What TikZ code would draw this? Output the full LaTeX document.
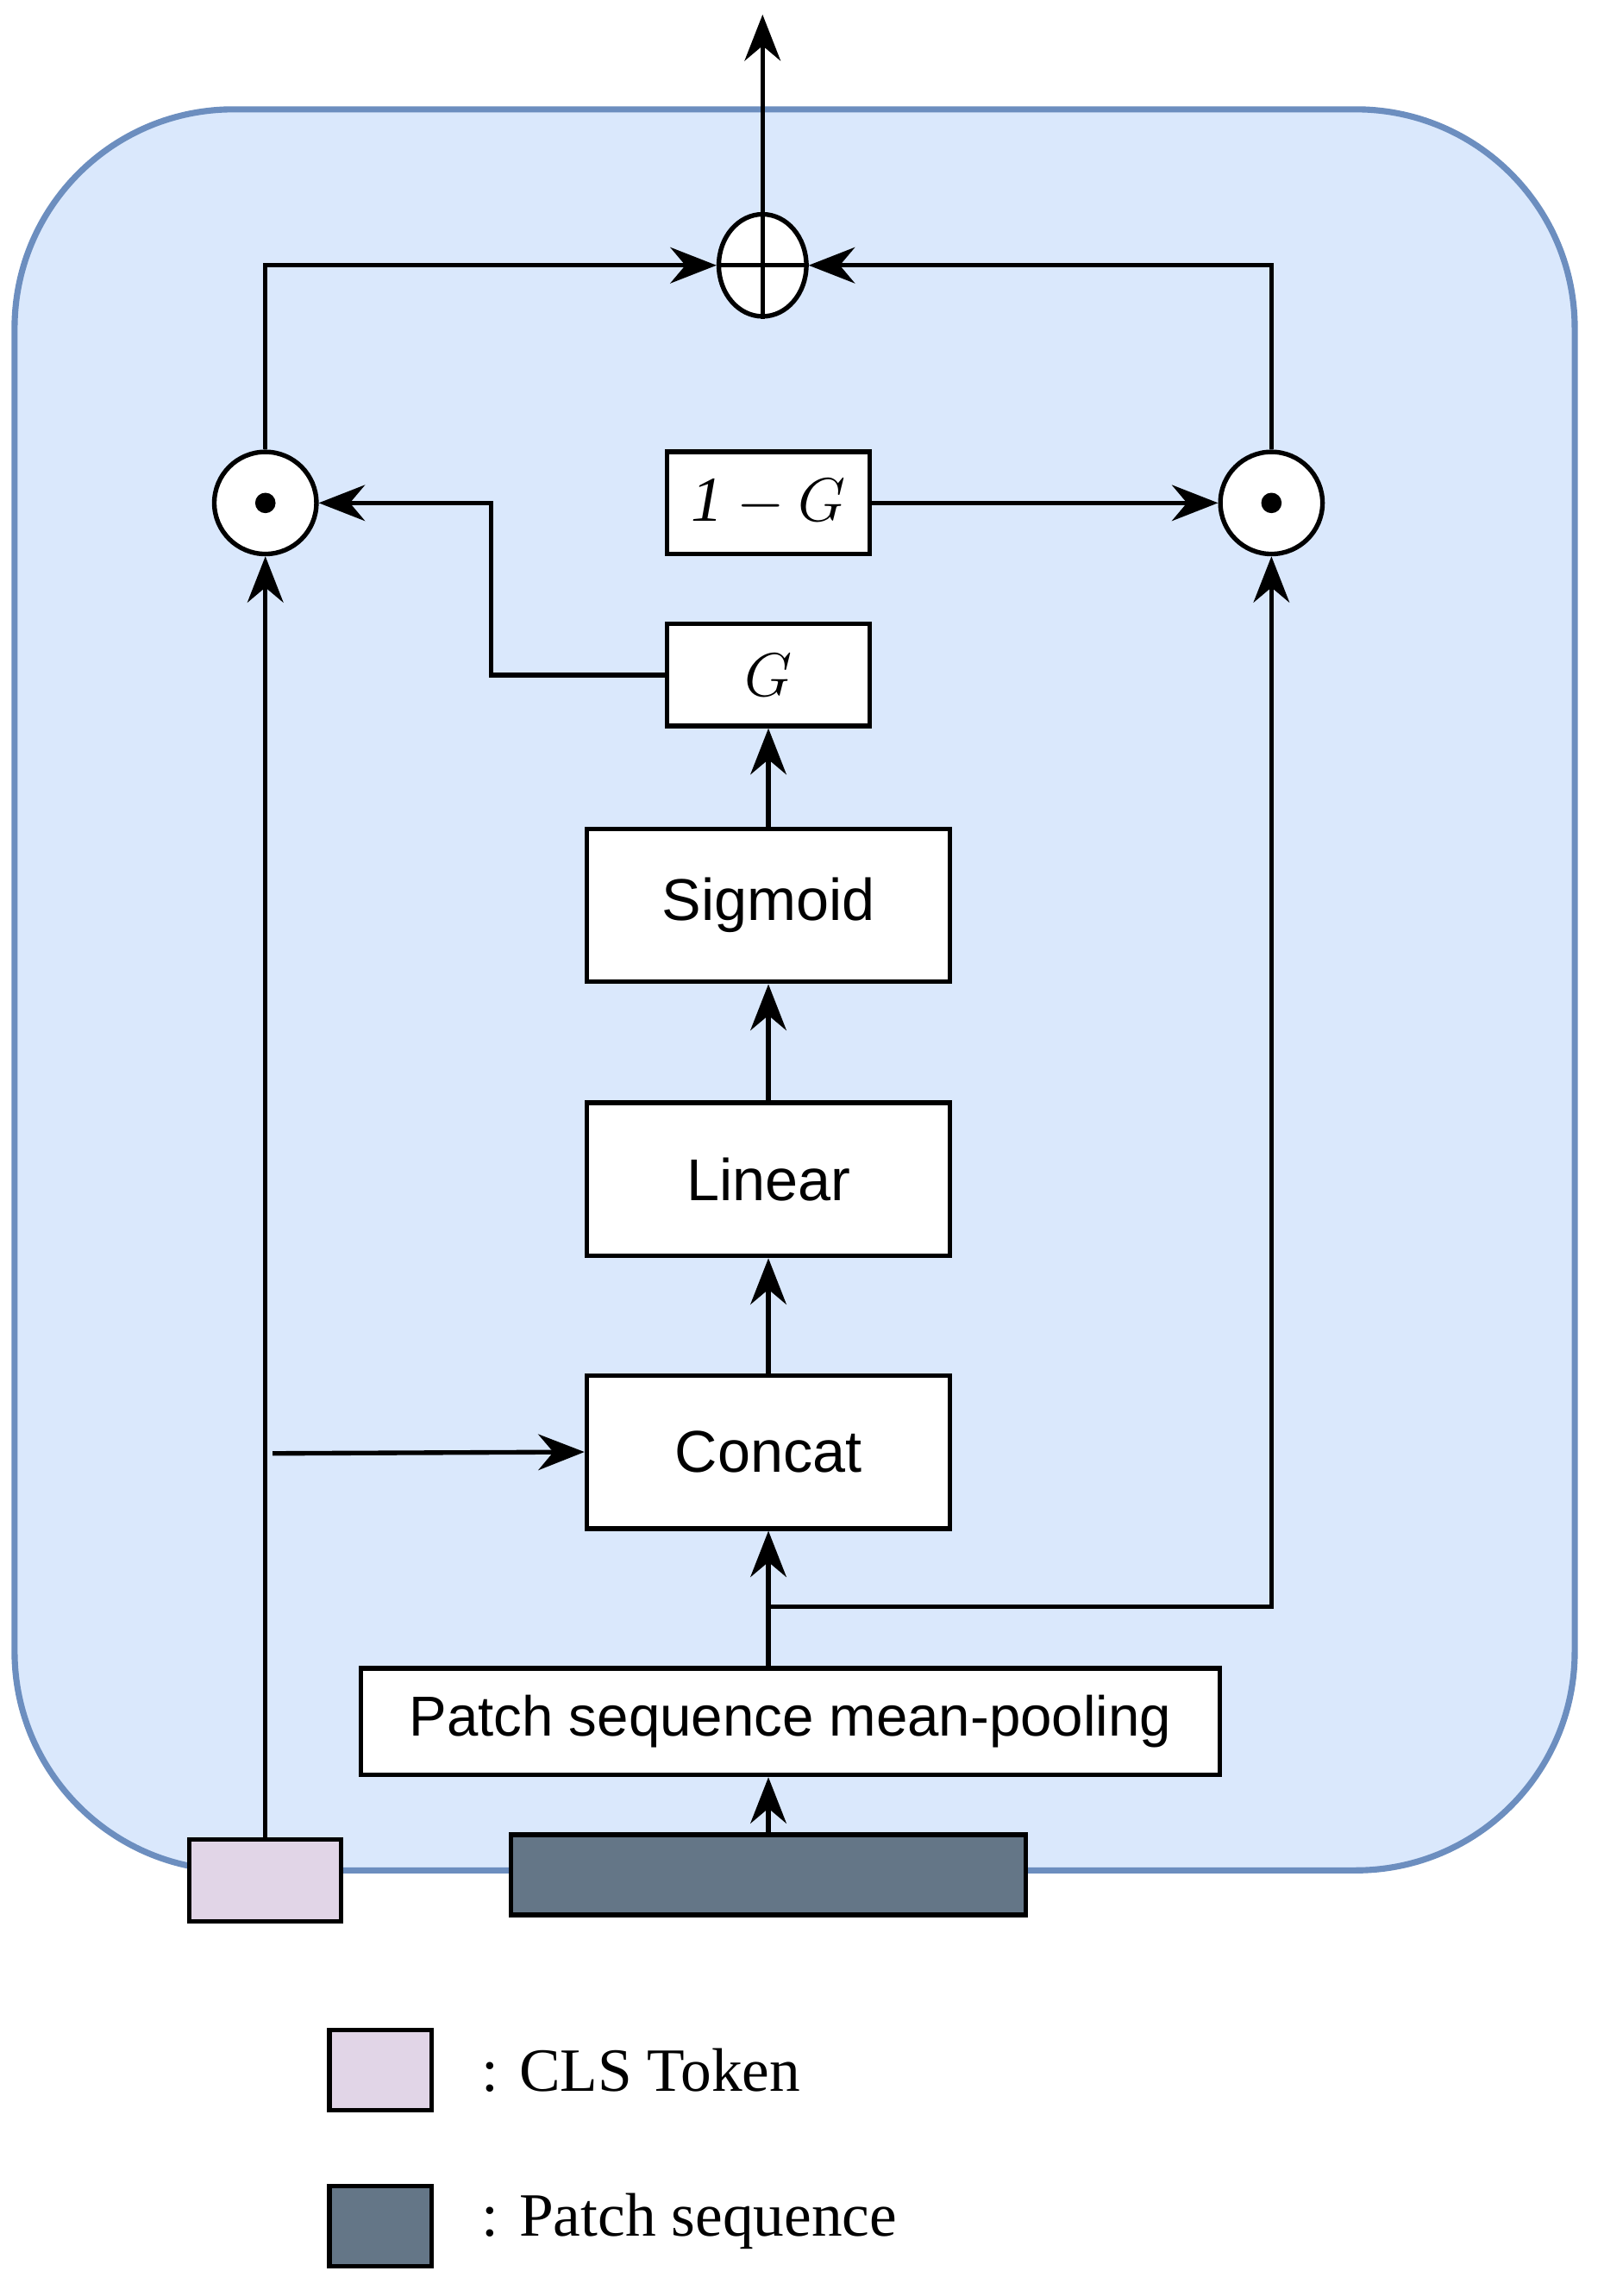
\documentclass[tikz,border=0pt]{standalone}
\usepackage{fontspec}
\setmainfont{Liberation Serif}
\newfontfamily\arialfont{Liberation Sans}
\usetikzlibrary{arrows.meta,shapes.geometric}
\definecolor{gateblue}{HTML}{DAE8FC}
\definecolor{gateborder}{HTML}{6C8EBF}
\definecolor{clspink}{HTML}{E1D5E7}
\definecolor{patchgray}{HTML}{647687}
\tikzset{
  box/.style={draw, line width=0.9pt, fill=white, inner sep=0pt, font=\arialfont\fontsize{11.5}{14}\selectfont},
  op/.style={draw, line width=0.9pt, fill=white, circle, minimum size=0.7cm, inner sep=0pt},
  conn/.style={line width=0.9pt, -{Stealth[length=9pt,width=7pt]}},
}
\begin{document}
\begin{tikzpicture}[x=0.01cm,y=-0.01cm]
  \useasboundingbox (0,0) rectangle (1100,1575);
  % gate block
  \draw[line width=1.2pt, draw=gateborder, fill=gateblue, rounded corners=1.5cm] (10,75) rectangle (1080,1283);

  \node[op, ellipse, minimum width=0.6cm, minimum height=0.7cm] (plus) at (523,182) {};
  \draw[line width=0.9pt] (plus.north) -- (plus.south) (plus.west) -- (plus.east);
  \node[op] (mulL) at (182,345) {};
  \fill (mulL) circle (7);
  \node[op] (mulR) at (872,345) {};
  \fill (mulR) circle (7);

  \node[box, minimum width=1.39cm, minimum height=0.7cm, font=\fontsize{12.5}{15}\selectfont] (oneG) at (527,345) {$\mathit{1}-G$};
  \node[box, minimum width=1.39cm, minimum height=0.7cm, font=\fontsize{12.5}{15}\selectfont] (gate) at (527,463) {$G$};
  \node[box, minimum width=2.49cm, minimum height=1.05cm] (sigmoid) at (527,621) {Sigmoid};
  \node[box, minimum width=2.49cm, minimum height=1.05cm] (linear) at (527,809) {Linear};
  \node[box, minimum width=2.49cm, minimum height=1.05cm] (concat) at (527,996) {Concat};
  \node[box, minimum width=5.89cm, minimum height=0.73cm, font=\arialfont\fontsize{11}{13}\selectfont] (pool) at (542,1181) {Patch sequence mean-pooling};

  \node[draw, line width=0.9pt, fill=clspink, minimum width=1.04cm, minimum height=0.56cm] (cls) at (182,1290) {};
  \node[draw, line width=0.9pt, fill=patchgray, minimum width=3.53cm, minimum height=0.55cm] (patch) at (527,1286) {};

  \coordinate (out) at (523,10);
  \coordinate (split) at (527,1102);
  \draw[conn] (plus.north) -- (out);
  \draw[conn] (cls.north) -- (mulL.south);
  \draw[conn] (187,997) -- (concat.west);
  \draw[conn] (patch.north) -- (pool.south -| patch.north);
  \draw[conn] (pool.north -| concat.south) -- (concat.south);
  \draw[conn] (split) -| (mulR.south);
  \draw[conn] (concat) -- (linear);
  \draw[conn] (linear) -- (sigmoid);
  \draw[conn] (sigmoid) -- (gate);
  \draw[conn] (gate.west) -| (337,345) -- (mulL.east);
  \draw[conn] (oneG.east) -- (mulR.west);
  \draw[conn] (mulL.north) |- (plus.west);
  \draw[conn] (mulR.north) |- (plus.east);

  % legend
  \node[draw, line width=0.9pt, fill=clspink, minimum width=0.7cm, minimum height=0.55cm] (keyCls) at (261,1420) {};
  \node[anchor=west, font=\fontsize{12}{14}\selectfont] (keyClsText) at (318,1420) {: CLS Token};
  \node[draw, line width=0.9pt, fill=patchgray, minimum width=0.7cm, minimum height=0.55cm] (keyPatch) at (261,1527) {};
  \node[anchor=west, font=\fontsize{12}{14}\selectfont] (keyPatchText) at (318,1524) {: Patch sequence};
\end{tikzpicture}
\end{document}
